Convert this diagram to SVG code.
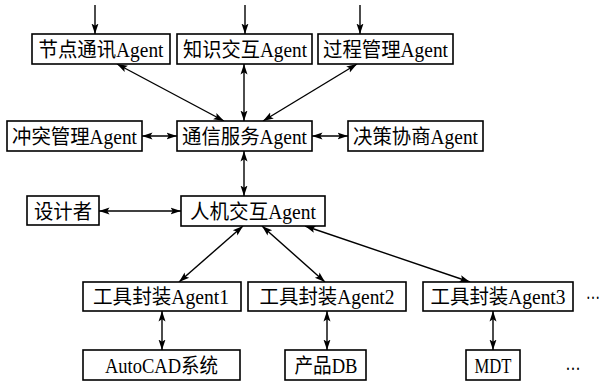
<svg xmlns="http://www.w3.org/2000/svg" width="605" height="383" viewBox="0 0 605 383">
<defs>
<marker id="ah" markerUnits="userSpaceOnUse" markerWidth="12" markerHeight="9" refX="10.5" refY="4.5" orient="auto-start-reverse">
<path d="M0,1 L10.5,4.5 L0,8 L2.2,4.5 z" fill="#000"/>
</marker>
<style>
.box{fill:#fff;stroke:#000;stroke-width:1.6}
.t{font-family:"Liberation Serif","Noto Sans CJK SC",serif;font-size:20px;fill:#000;text-anchor:middle}
.c{fill:none;stroke:#000;stroke-width:1.4}
.d{marker-start:url(#ah);marker-end:url(#ah)}
.s{marker-end:url(#ah)}
</style>
</defs>
<rect width="605" height="383" fill="#fff"/>
<g id="connectors">
<line class="c s" x1="95" y1="5" x2="95" y2="34"/>
<line class="c s" x1="245" y1="5" x2="245" y2="34"/>
<line class="c s" x1="360" y1="5" x2="360" y2="34"/>
<line class="c d" x1="117" y1="64" x2="224" y2="121"/>
<line class="c d" x1="244" y1="64" x2="244" y2="121"/>
<line class="c d" x1="357" y1="64" x2="263" y2="121"/>
<line class="c d" x1="142" y1="136" x2="177" y2="136"/>
<line class="c d" x1="312" y1="136" x2="348" y2="136"/>
<line class="c d" x1="244" y1="151" x2="244" y2="196"/>
<line class="c d" x1="99" y1="211" x2="181" y2="211"/>
<line class="c d" x1="243" y1="226" x2="179" y2="282"/>
<line class="c d" x1="262" y1="226" x2="325" y2="282"/>
<line class="c d" x1="305" y1="226" x2="470" y2="282"/>
<line class="c d" x1="162" y1="311" x2="162" y2="350"/>
<line class="c d" x1="327" y1="311" x2="327" y2="350"/>
<line class="c d" x1="493" y1="311" x2="493" y2="350"/>
</g>
<g id="n1"><rect class="box" x="32" y="34" width="138" height="30"/><text class="t" x="101" y="56.5" textLength="125" lengthAdjust="spacingAndGlyphs">节点通讯Agent</text></g>
<g id="n2"><rect class="box" x="177" y="34" width="135" height="30"/><text class="t" x="245" y="56.5" textLength="124" lengthAdjust="spacingAndGlyphs">知识交互Agent</text></g>
<g id="n3"><rect class="box" x="318" y="34" width="135" height="30"/><text class="t" x="385.5" y="56.5" textLength="125" lengthAdjust="spacingAndGlyphs">过程管理Agent</text></g>
<g id="n4"><rect class="box" x="7" y="121" width="135" height="30"/><text class="t" x="74.5" y="143.5" textLength="125" lengthAdjust="spacingAndGlyphs">冲突管理Agent</text></g>
<g id="n5"><rect class="box" x="177" y="121" width="135" height="30"/><text class="t" x="244.5" y="143.5" textLength="125" lengthAdjust="spacingAndGlyphs">通信服务Agent</text></g>
<g id="n6"><rect class="box" x="348" y="121" width="135" height="30"/><text class="t" x="415.5" y="143.5" textLength="125" lengthAdjust="spacingAndGlyphs">决策协商Agent</text></g>
<g id="n7"><rect class="box" x="27" y="196" width="72" height="29"/><text class="t" x="63" y="218.5" textLength="58" lengthAdjust="spacingAndGlyphs">设计者</text></g>
<g id="n8"><rect class="box" x="181" y="196" width="144" height="30"/><text class="t" x="253" y="218.5" textLength="126" lengthAdjust="spacingAndGlyphs">人机交互Agent</text></g>
<g id="n9"><rect class="box" x="83" y="282" width="158" height="29"/><text class="t" x="161" y="304" textLength="136" lengthAdjust="spacingAndGlyphs">工具封装Agent1</text></g>
<g id="n10"><rect class="box" x="248" y="282" width="158" height="29"/><text class="t" x="327" y="304" textLength="135" lengthAdjust="spacingAndGlyphs">工具封装Agent2</text></g>
<g id="n11"><rect class="box" x="423" y="282" width="150" height="29"/><text class="t" x="498" y="304" textLength="135" lengthAdjust="spacingAndGlyphs">工具封装Agent3</text></g>
<g id="n12"><rect class="box" x="83" y="350" width="157" height="30"/><text class="t" x="161.5" y="372.5" textLength="113" lengthAdjust="spacingAndGlyphs">AutoCAD系统</text></g>
<g id="n13"><rect class="box" x="285" y="350" width="81" height="30"/><text class="t" x="326" y="372.5" textLength="63" lengthAdjust="spacingAndGlyphs">产品DB</text></g>
<g id="n14"><rect class="box" x="466" y="350" width="54" height="30"/><text class="t" x="493" y="372.5" textLength="37" lengthAdjust="spacingAndGlyphs">MDT</text></g>
<g id="e1"><text class="t" x="593" y="299" textLength="14" lengthAdjust="spacingAndGlyphs">…</text></g>
<g id="e2"><text class="t" x="573" y="370" textLength="15" lengthAdjust="spacingAndGlyphs">…</text></g>
</svg>
